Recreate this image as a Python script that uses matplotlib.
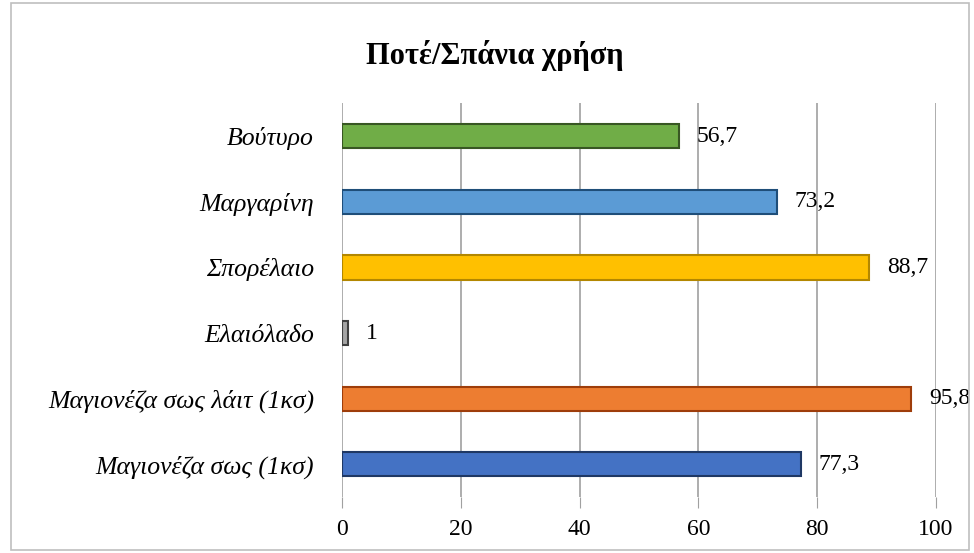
import matplotlib.pyplot as plt
from matplotlib.patches import Rectangle

categories = ['Μαγιονέζα σως (1κσ)', 'Μαγιονέζα σως λάιτ (1κσ)', 'Ελαιόλαδο',
              'Σπορέλαιο', 'Μαργαρίνη', 'Βούτυρο']
values = [77.3, 95.8, 1, 88.7, 73.2, 56.7]
labels = ['77,3', '95,8', '1', '88,7', '73,2', '56,7']
colors = ['#4472C4', '#ED7D31', '#A5A5A5', '#FFC000', '#5B9BD5', '#70AD47']
edges = ['#1F3864', '#9E3D0A', '#404040', '#B38700', '#1F4E79', '#385723']
xticks = [0, 20, 40, 60, 80, 100]

plt.rcParams['font.family'] = ['Liberation Serif', 'DejaVu Serif']

fig = plt.figure(figsize=(9.74, 5.53), dpi=100)
ax = fig.add_axes([0.351, 0.101, 0.61, 0.712])

ypos = range(len(categories))
ax.barh(ypos, values, height=0.37, color=colors, edgecolor=edges, linewidth=1.5, zorder=3)
for y, v, t in zip(ypos, values, labels):
    ax.text(v + 3, y, t, va='center', ha='left', fontsize=17, zorder=4)

ax.set_xlim(0, 100)
ax.set_ylim(-0.5, 5.5)
ax.set_xticks(xticks)
ax.set_xticklabels([str(x) for x in xticks], fontsize=17)
ax.set_yticks(list(ypos))
ax.set_yticklabels(categories, fontsize=18.5, style='italic')
ax.tick_params(axis='y', length=0, pad=20)
ax.tick_params(axis='x', length=8, color='#A0A0A0', pad=8)
ax.grid(axis='x', color='#A0A0A0', linewidth=1.2, zorder=0)
for s in ['top', 'right', 'bottom', 'left']:
    ax.spines[s].set_visible(False)

fig.text(0.508, 0.9, 'Ποτέ/Σπάνια χρήση', ha='center', va='center',
         fontsize=22, fontweight='bold')
fig.patches.append(Rectangle((0.011, 0.005), 0.984, 0.99, transform=fig.transFigure,
                             fill=False, edgecolor='#BFBFBF', linewidth=1.2))

plt.savefig('out.png', dpi=100)
